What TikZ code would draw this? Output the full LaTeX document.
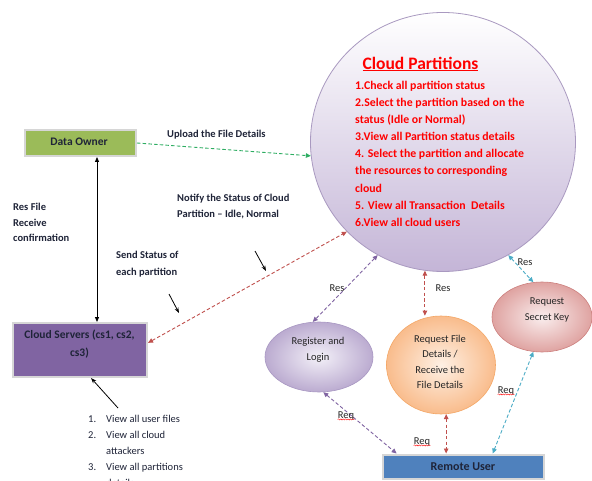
\documentclass[tikz,border=0pt]{standalone}
\usepackage{fontspec}
\setmainfont{Carlito}
\usetikzlibrary{arrows.meta,shapes.geometric,decorations.pathmorphing,calc}
\definecolor{doGreen}{HTML}{9BBB59}
\definecolor{csPurple}{HTML}{8064A2}
\definecolor{ruBlue}{HTML}{4F81BD}
\definecolor{lnGreen}{HTML}{2EAD62}
\definecolor{lnRed}{HTML}{C0504D}
\definecolor{lnPurple}{HTML}{8064A2}
\definecolor{lnCyan}{HTML}{4BACC6}
\definecolor{txtDark}{HTML}{1F2438}
\definecolor{cpRed}{HTML}{FF0000}
\definecolor{cpEdge}{HTML}{A999C0}
\definecolor{cpDark}{HTML}{C4B5D7}
\definecolor{rlIn}{HTML}{F3F0F8}
\definecolor{rlOut}{HTML}{BBABD0}
\definecolor{rlEdge}{HTML}{A897C2}
\definecolor{rfIn}{HTML}{FEF0E4}
\definecolor{rfOut}{HTML}{F9BC8C}
\definecolor{rfEdge}{HTML}{F4A766}
\definecolor{skIn}{HTML}{FAEEEE}
\definecolor{skOut}{HTML}{DFA3A1}
\definecolor{skEdge}{HTML}{CD807E}
\definecolor{boxEdge}{HTML}{D6D6D6}
\begin{document}
\begin{tikzpicture}[x=1pt,y=1pt,
  >={Triangle[length=5pt,width=4.5pt]},
  box/.style={rectangle, draw=boxEdge, line width=2pt, inner sep=0pt},
  boxtext/.style={font=\fontsize{11.5}{18}\selectfont\bfseries, text=txtDark, align=center, inner sep=0pt},
  lbl/.style={font=\fontsize{10.5}{12}\selectfont\bfseries, text=txtDark, inner sep=0pt, anchor=base west},
  cpitem/.style={font=\fontsize{11.8}{12}\selectfont\bfseries, text=cpRed, inner sep=0pt, anchor=base west},
  eltext/.style={font=\fontsize{10.5}{15.5}\selectfont, text=black!85, align=center, inner sep=0pt},
  listtext/.style={font=\fontsize{10.5}{12}\selectfont, text=txtDark, inner sep=0pt, anchor=base west},
  rr/.style={font=\fontsize{10.5}{12}\selectfont, text=black!85, inner sep=0pt},
  conn/.style={dash pattern=on 3.5pt off 2.2pt, line width=0.9pt},
  blk/.style={line width=0.8pt, -{Stealth[length=5.5pt,width=4pt]}},
  squig/.style={draw=red, line width=0.4pt, decorate, decoration={snake, amplitude=0.6pt, segment length=2.4pt}},
]
\fill[white] (0,0) rectangle (592,-481);
\useasboundingbox (0,0) rectangle (592,-481);

% big circle
\node[ellipse, minimum width=265pt, minimum height=259pt, draw=cpEdge, line width=0.8pt,
      top color=white, bottom color=cpDark, inner sep=0pt] (cp) at (443,-142) {};
\node[font=\fontsize{17.5}{20}\selectfont\bfseries, text=cpRed, inner sep=0pt] (cpt) at (420.5,-64) {\underline{Cloud Partitions}};
\foreach \t [count=\i] in {1.Check all partition status,
  2.Select the partition based on the,
  status (Idle or Normal),
  3.View all Partition status details,
  4. Select the partition and allocate,
  the resources to corresponding,
  cloud,
  5. View all Transaction~~Details,
  6.View all cloud users}
  \node[cpitem] (cpl\i) at (355,{-89.5-17.1*(\i-1)}) {\t};

% ellipses
\node[ellipse, minimum width=108pt, minimum height=70pt, draw=rlEdge, line width=0.6pt,
      inner color=rlIn, outer color=rlOut, inner sep=0pt] (rl) at (319,-357) {};
\node[ellipse, minimum width=109pt, minimum height=98pt, draw=rfEdge, line width=0.6pt,
      inner color=rfIn, outer color=rfOut, inner sep=0pt] (rf) at (441,-365) {};
\node[ellipse, minimum width=100pt, minimum height=70pt, draw=skEdge, line width=0.6pt,
      inner color=skIn, outer color=skOut, inner sep=0pt] (sk) at (542,-317) {};
\node[eltext] (rlt) at (318,-350) {Register and\\Login};
\node[eltext] (rft) at (440,-362) {Request File\\Details /\\Receive the\\File Details};
\node[eltext] (skt) at (547,-310) {Request\\Secret Key};

% boxes
\node[box, fill=doGreen, minimum width=111pt, minimum height=26pt] (do) at (80.5,-143) {};
\node[boxtext] (dot) at (79,-142) {Data Owner};
\node[box, fill=csPurple, minimum width=134pt, minimum height=54pt] (cs) at (80,-350) {};
\node[boxtext] (cst) at (79.5,-344) {Cloud Servers (cs1, cs2,\\cs3)};
\node[box, fill=ruBlue, minimum width=161pt, minimum height=24pt] (ru) at (463.5,-466.5) {};
\node[boxtext, font=\fontsize{12}{14}\selectfont\bfseries] (rut) at (463,-467) {Remote User};

% labels
\node[lbl] (l1) at (167,-137.5) {Upload the File Details};
\node[lbl] (l2) at (177,-201.5) {Notify the Status of Cloud};
\node[lbl] (l3) at (177,-217.5) {Partition – Idle, Normal};
\node[lbl] (l4) at (13,-210.5) {Res File};
\node[lbl] (l5) at (13,-226.5) {Receive};
\node[lbl] (l6) at (13,-242) {confirmation};
\node[lbl] (l7) at (116,-258.5) {Send Status of};
\node[lbl] (l8) at (116,-275.5) {each partition};

% list
\node[listtext] (n1) at (88,-422.5) {1.};
\node[listtext] (t1) at (106,-422.5) {View all user files};
\node[listtext] (n2) at (88,-438.5) {2.};
\node[listtext] (t2) at (106,-438.5) {View all cloud};
\node[listtext] (t2b) at (106,-454.5) {attackers};
\node[listtext] (n3) at (88,-470.5) {3.};
\node[listtext] (t3) at (106,-470.5) {View all partitions};
\node[listtext] (t3b) at (106,-486.5) {details};

% connectors
\draw[conn, lnGreen, ->] (do.east) -- (cp.186);
\draw[conn, lnRed, <->] (cs.6) -- (cp.223);
\draw[conn, lnPurple, <->] (cp.240) -- (rl.100);
\draw[conn, lnRed, <->] (cp.262) -- (cp.262 |- rf.north);
\draw[conn, lnCyan, <->] (cp.300) -- (sk.104);
\draw[conn, lnPurple, <->] (rl.277) -- (ru.169);
\draw[conn, lnRed, <->] (rf.276) -- (rf.276 |- ru.north);
\draw[conn, lnCyan, <->] (sk.256) -- (ru.24);

\coordinate (vx) at (97,0);
\draw[line width=0.8pt, {Triangle[length=5pt,width=4pt]}-{Triangle[length=5pt,width=4pt]}] (vx |- do.south) -- (vx |- cs.north);

\coordinate (a1s) at (255,-251);
\coordinate (a1e) at (266,-271);
\coordinate (a2s) at (169,-294);
\coordinate (a2e) at (179,-313);
\coordinate (a3s) at (118,-408);
\coordinate (a3e) at (91,-378);
\draw[blk] (a1s) -- (a1e);
\draw[blk] (a2s) -- (a2e);
\draw[blk] (a3s) -- (a3e);

% Res / Req labels
\node[rr] (res1) at (337,-288) {Res};
\node[rr] (res2) at (443,-288) {Res};
\node[rr] (res3) at (525,-262) {Res};
\node[rr] (req1) at (346,-416) {Req};
\node[rr] (req2) at (422,-442) {Req};
\node[rr] (req3) at (506,-391) {Req};
\draw[squig] ($(req1.south west)+(0,1)$) -- ($(req1.south east)+(0,1)$);
\draw[squig] ($(req2.south west)+(0,1)$) -- ($(req2.south east)+(0,1)$);
\draw[squig] ($(req3.south west)+(0,1)$) -- ($(req3.south east)+(0,1)$);
\end{tikzpicture}
\end{document}
